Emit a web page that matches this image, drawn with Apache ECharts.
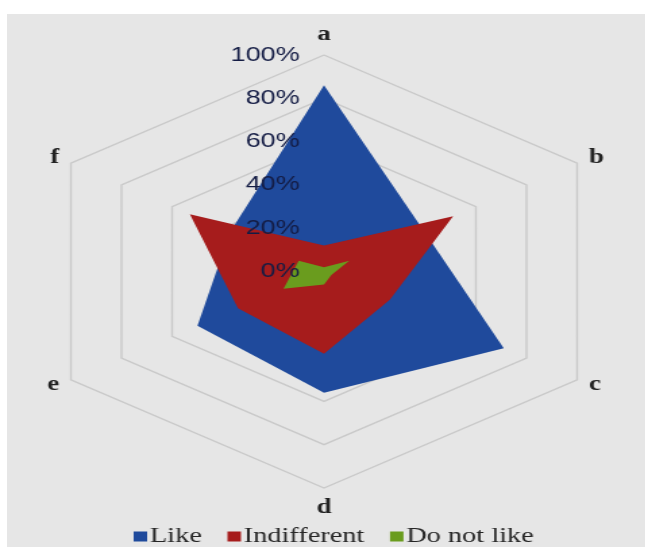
<!DOCTYPE html>
<html>
<head>
<meta charset="utf-8">
<title>Radar - Like / Indifferent / Do not like</title>
<script src="https://cdn.jsdelivr.net/npm/echarts@6/dist/echarts.min.js"></script>
<style>
    html, body { margin: 0; padding: 0; background: #ffffff; }
    .wrap { position: relative; width: 645px; height: 547px; overflow: hidden; }
    .panel { position: absolute; left: 7px; top: 14px; right: 0; bottom: 0; background: #e6e6e6; }
    /* the source picture is stretched sideways, so the chart is drawn narrow and scaled */
    #chart { position: absolute; left: 0; top: 0; width: 478px; height: 547px;
             transform: scaleX(1.35); transform-origin: 0 0; }
</style>
</head>
<body>
<div class="wrap">
    <div class="panel"></div>
    <div id="chart"></div>
</div>
<script>
// 数据
var categories = ['a', 'b', 'c', 'd', 'e', 'f'];
var likeValues = [86, 39, 71, 56, 50, 37];
var indifferentValues = [12, 51, 26, 38, 34, 53];
var dislikeValues = [2, 10, 3, 6, 16, 10];
var seriesNames = ['Like', 'Indifferent', 'Do not like'];
var axisMax = 100;
var axisStep = 20;

var colors = ['#1f4a9c', '#a61c1c', '#6a9c1e'];

// echarts radar goes counter-clockwise, the picture goes clockwise
var order = [0, 5, 4, 3, 2, 1];

function reorder(arr) {
    return order.map(function (i) { return arr[i]; });
}

function makeIndicators(withLabel) {
    return reorder(categories).map(function (name, idx) {
        var item = { name: name, min: 0, max: axisMax };
        if (withLabel && idx === 0) {
            item.axisLabel = { show: true };
        }
        return item;
    });
}

var radarCenter = [240, 271.5];
var radarRadius = 216.5;

var myChart = echarts.init(document.getElementById('chart'), null, { renderer: 'canvas' });

myChart.setOption({
    animation: false,
    color: colors,
    legend: {
        data: seriesNames,
        bottom: -5,
        left: 94,
        icon: 'rect',
        itemWidth: 10,
        itemHeight: 10,
        itemGap: 19,
        textStyle: {
            fontFamily: 'Liberation Serif',
            fontSize: 21,
            color: '#262626',
            padding: [0, 0, 0, -3]
        }
    },
    radar: [
        {
            // 网格
            center: radarCenter,
            radius: radarRadius,
            shape: 'polygon',
            splitNumber: axisMax / axisStep,
            startAngle: 90,
            indicator: makeIndicators(false),
            axisName: {
                color: '#222222',
                fontFamily: 'Liberation Serif',
                fontWeight: 'bold',
                fontSize: 20
            },
            nameGap: 10,
            axisLine: { show: false },
            axisTick: { show: false },
            splitArea: { show: false },
            splitLine: {
                lineStyle: { color: '#c9c9c9', width: 1.4 }
            },
            z: 0
        },
        {
            // 刻度文字, 画在填充上面
            center: radarCenter,
            radius: radarRadius,
            shape: 'polygon',
            splitNumber: axisMax / axisStep,
            startAngle: 90,
            indicator: makeIndicators(true),
            axisName: { show: false },
            axisLine: { show: false },
            axisTick: { show: false },
            splitArea: { show: false },
            splitLine: { show: false },
            axisLabel: {
                show: false,
                formatter: '{value}%',
                color: '#141c44',
                fontFamily: 'Liberation Sans',
                fontSize: 20,
                margin: 18
            },
            z: 10
        }
    ],
    series: [
        {
            type: 'radar',
            radarIndex: 0,
            symbol: 'none',
            data: [
                {
                    name: seriesNames[0],
                    value: reorder(likeValues),
                    lineStyle: { width: 0 },
                    areaStyle: { color: colors[0], opacity: 1 }
                },
                {
                    name: seriesNames[1],
                    value: reorder(indifferentValues),
                    lineStyle: { width: 0 },
                    areaStyle: { color: colors[1], opacity: 1 }
                },
                {
                    name: seriesNames[2],
                    value: reorder(dislikeValues),
                    lineStyle: { width: 0 },
                    areaStyle: { color: colors[2], opacity: 1 }
                }
            ]
        }
    ]
});
</script>
</body>
</html>
